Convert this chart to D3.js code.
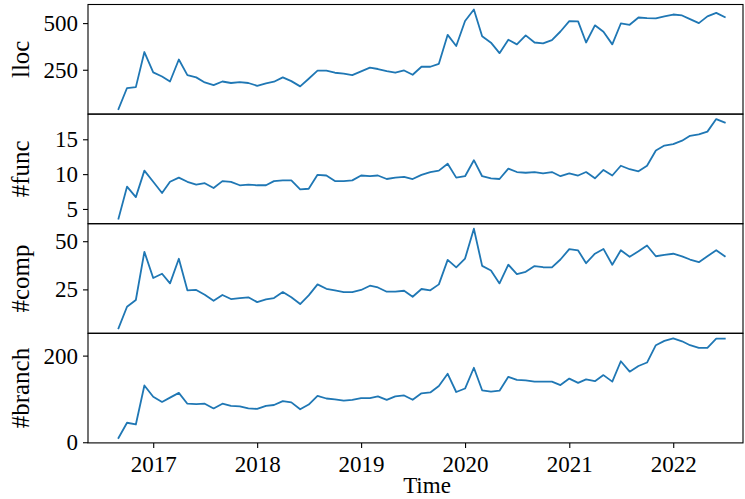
<!DOCTYPE html>
<html>
<head>
<meta charset="utf-8">
<script src="https://cdn.jsdelivr.net/npm/d3@7"></script>
<style>
  html, body { margin: 0; padding: 0; background: #fff; }
  svg { display: block; }
  text { font-family: "Liberation Serif", "Times New Roman", serif; fill: #000; }
</style>
</head>
<body>
<svg id="chart" width="745" height="499"></svg>
<script>
// Monthly code metrics, Sep 2016 .. Jul 2022
const months = d3.timeMonth.range(new Date(2016, 8, 1), new Date(2022, 7, 1));

const lloc = [39,152,157,345,236,214,187,305,221,209,
  182,168,187,179,184,179,164,177,186,209,
  189,161,202,245,245,234,229,221,241,261,
  254,243,234,246,223,266,266,282,437,377,
  511,573,429,395,339,411,386,434,396,391,
  409,455,511,509,396,488,454,386,498,491,
  530,527,525,536,546,541,521,500,536,555,532];

const func = [3.6,8.2,6.7,10.5,8.9,7.3,8.9,9.5,8.9,8.5,
  8.7,8.0,9.0,8.9,8.4,8.5,8.4,8.4,9.0,9.1,
  9.1,7.8,7.9,9.9,9.8,9.0,9.0,9.1,9.8,9.7,
  9.8,9.3,9.5,9.6,9.3,9.9,10.3,10.5,11.5,9.5,
  9.7,12.0,9.7,9.4,9.3,10.8,10.3,10.2,10.3,10.1,
  10.3,9.7,10.1,9.8,10.3,9.4,10.6,9.8,11.2,10.7,
  10.4,11.2,13.4,14.1,14.3,14.8,15.5,15.7,16.1,17.9,17.4];

const comp = [4.8,16.0,19.5,44.5,30.9,33.1,28.1,40.9,24.5,24.7,
  22.2,19.1,22.1,20.0,20.5,20.9,18.4,19.8,20.5,23.6,
  20.9,17.4,21.9,27.6,25.3,24.5,23.6,23.6,24.7,26.9,
  26.0,23.8,23.8,24.3,21.2,25.2,24.5,27.6,40.3,36.4,
  41.0,56.5,37.2,34.8,28.1,37.8,32.9,34.1,37.1,36.5,
  36.4,40.5,45.9,45.2,38.6,43.5,46.0,37.8,45.3,41.9,
  44.8,47.8,42.2,42.9,43.5,42.1,40.5,39.1,42.2,45.3,42.2];

const branch = [10,45,41,131,105,93,103,114,89,88,
  89,78,89,84,83,78,77,84,86,95,
  92,76,87,107,101,99,96,98,102,102,
  106,98,106,108,98,113,115,130,158,116,
  124,172,120,117,119,151,144,143,140,140,
  140,132,147,137,145,141,155,140,187,163,
  176,184,224,234,240,233,224,218,218,239,239];

const panelLabels = ["lloc", "#func", "#comp", "#branch"];
const panelSeries = [lloc, func, comp, branch];
const panelTicks = [[250, 500], [5, 10, 15], [25, 50], [0, 200]];
const yearTicks = [2017, 2018, 2019, 2020, 2021, 2022];
const xLabel = "Time";

// Layout
const plotLeft = 88, plotRight = 743, plotTop = 4.5, panelH = 109.6;
const fontSize = 23;
const lineColor = "#1f77b4";

const svg = d3.select("#chart");

const x = d3.scaleTime()
  .domain([new Date(2016, 4, 17), new Date(2022, 8, 3)])
  .range([plotLeft, plotRight]);

panelSeries.forEach((values, k) => {
  const y0 = plotTop + k * panelH, y1 = y0 + panelH;
  const lo = d3.min(values), hi = d3.max(values), pad = (hi - lo) * 0.05;
  const y = d3.scaleLinear().domain([lo - pad, hi + pad]).range([y1, y0]);

  const g = svg.append("g");

  g.append("path")
    .datum(values)
    .attr("fill", "none")
    .attr("stroke", lineColor)
    .attr("stroke-width", 1.8)
    .attr("stroke-linejoin", "round")
    .attr("stroke-linecap", "square")
    .attr("d", d3.line().x((d, i) => x(months[i])).y(d => y(d)));

  g.append("rect")
    .attr("x", plotLeft).attr("y", y0)
    .attr("width", plotRight - plotLeft).attr("height", panelH)
    .attr("fill", "none").attr("stroke", "#000").attr("stroke-width", 1.1);

  const yAxis = g.append("g")
    .attr("transform", `translate(${plotLeft},0)`)
    .call(d3.axisLeft(y).tickValues(panelTicks[k]).tickSize(5).tickPadding(5).tickFormat(d3.format("d")));
  yAxis.select(".domain").remove();
  yAxis.selectAll(".tick line").attr("stroke", "#000").attr("stroke-width", 1.1);
  yAxis.selectAll(".tick text")
    .attr("font-size", fontSize)
    .attr("font-family", "Liberation Serif")
    .attr("dy", "0.33em");

  g.append("text")
    .attr("transform", `translate(29,${(y0 + y1) / 2}) rotate(-90)`)
    .attr("text-anchor", "middle")
    .attr("font-size", fontSize + 2)
    .text(panelLabels[k]);

  if (k === panelSeries.length - 1) {
    const xAxis = g.append("g")
      .attr("transform", `translate(0,${y1})`)
      .call(d3.axisBottom(x)
        .tickValues(yearTicks.map(yr => new Date(yr, 0, 1)))
        .tickSize(5).tickPadding(8)
        .tickFormat(d3.timeFormat("%Y")));
    xAxis.select(".domain").remove();
    xAxis.selectAll(".tick line").attr("stroke", "#000").attr("stroke-width", 1.1);
    xAxis.selectAll(".tick text")
      .attr("font-size", fontSize)
      .attr("font-family", "Liberation Serif")
      .attr("dy", null)
      .attr("y", 472 - y1);

    svg.append("text")
      .attr("x", 427).attr("y", 493)
      .attr("text-anchor", "middle")
      .attr("font-size", fontSize)
      .text(xLabel);
  }
});
</script>
</body>
</html>
